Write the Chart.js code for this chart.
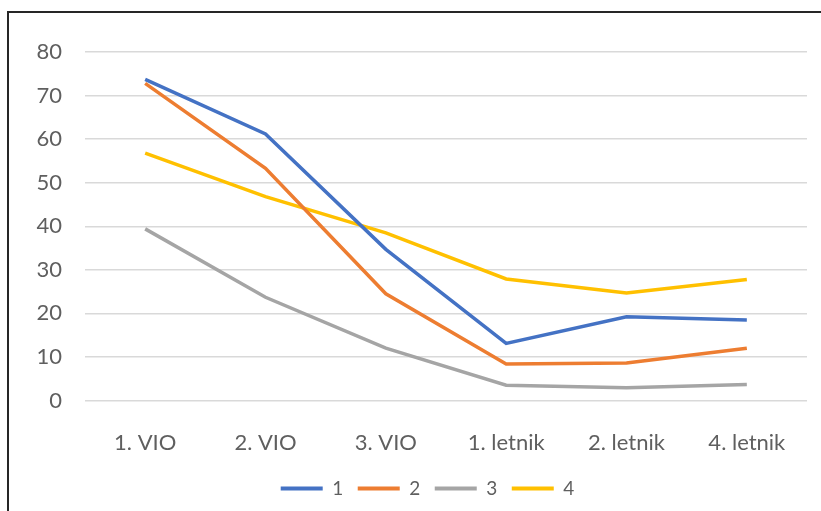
<!DOCTYPE html>
<html>
<head>
<meta charset="utf-8">
<script src="https://cdn.jsdelivr.net/npm/chart.js@4.4.1/dist/chart.umd.min.js"></script>
<style>
    body { margin: 0; background: #ffffff; }
    #okvir {
        position: absolute;
        left: 7px;
        top: 11px;
        width: 830px;
        height: 520px;
        border-left: 2px solid #262626;
        border-top: 2px solid #262626;
    }
    #wrap { position: absolute; left: 0; top: 0; width: 821px; height: 511px; }
</style>
</head>
<body>
<div id="okvir"></div>
<div id="wrap"><canvas id="grafikon"></canvas></div>
<script>
const kategorije = ["1. VIO", "2. VIO", "3. VIO", "1. letnik", "2. letnik", "4. letnik"];
const serija1 = [73.7, 61.2, 34.7, 13.1, 19.2, 18.5];
const serija2 = [72.8, 53.3, 24.5, 8.4, 8.6, 12.0];
const serija3 = [39.4, 23.7, 12.0, 3.5, 2.9, 3.7];
const serija4 = [56.8, 46.8, 38.5, 27.9, 24.7, 27.8];
const imenaSerij = ["1", "2", "3", "4"];
const barve = ["#4472C4", "#ED7D31", "#A5A5A5", "#FFC000"];

const grafikon = document.getElementById("grafikon");
const tekstBarva = "#5f5f5f";
const pisava = "Lato";

const datasets = [serija1, serija2, serija3, serija4].map((vrednosti, i) => ({
    label: imenaSerij[i],
    data: vrednosti,
    borderColor: barve[i],
    backgroundColor: barve[i],
    borderWidth: 3.5,
    pointRadius: 0,
    tension: 0,
}));

// legenda je v izvirniku malo desno od sredine
const pomikLegende = {
    id: "pomikLegende",
    afterLayout(chart) {
        chart.legend.left += 20;
        chart.legend.right += 20;
    },
};

const options = {
    responsive: false,
    animation: false,
    layout: {
        padding: { left: 8, top: 52, right: 14, bottom: 3 },
    },
    scales: {
        x: {
            offset: true,
            grid: { display: false, drawTicks: false },
            border: { display: false },
            ticks: {
                color: tekstBarva,
                padding: 29,
                maxRotation: 0,
                font: { size: 22, family: pisava },
            },
            afterFit: (scale) => {
                scale.height = 64;
            },
        },
        y: {
            min: 0,
            max: 80,
            grid: { color: "#d9d9d9", lineWidth: 1.5, drawTicks: false },
            border: { display: false },
            ticks: {
                stepSize: 10,
                color: tekstBarva,
                padding: 23,
                font: { size: 22, family: pisava },
            },
            afterFit: (scale) => {
                scale.width = 77;
            },
        },
    },
    plugins: {
        legend: {
            position: "bottom",
            labels: {
                color: tekstBarva,
                boxWidth: 42,
                boxHeight: 4,
                padding: 14.5,
                font: { size: 19, family: pisava },
                generateLabels: (chart) =>
                    Chart.defaults.plugins.legend.labels.generateLabels(chart).map((l) => ({
                        ...l,
                        lineWidth: 0,
                        fillStyle: barve[l.datasetIndex],
                    })),
            },
        },
        tooltip: { enabled: false },
    },
};

grafikon.width = 821;
grafikon.height = 511;

new Chart(grafikon, {
    type: "line",
    data: { labels: kategorije, datasets: datasets },
    options: options,
    plugins: [pomikLegende],
});
</script>
</body>
</html>
